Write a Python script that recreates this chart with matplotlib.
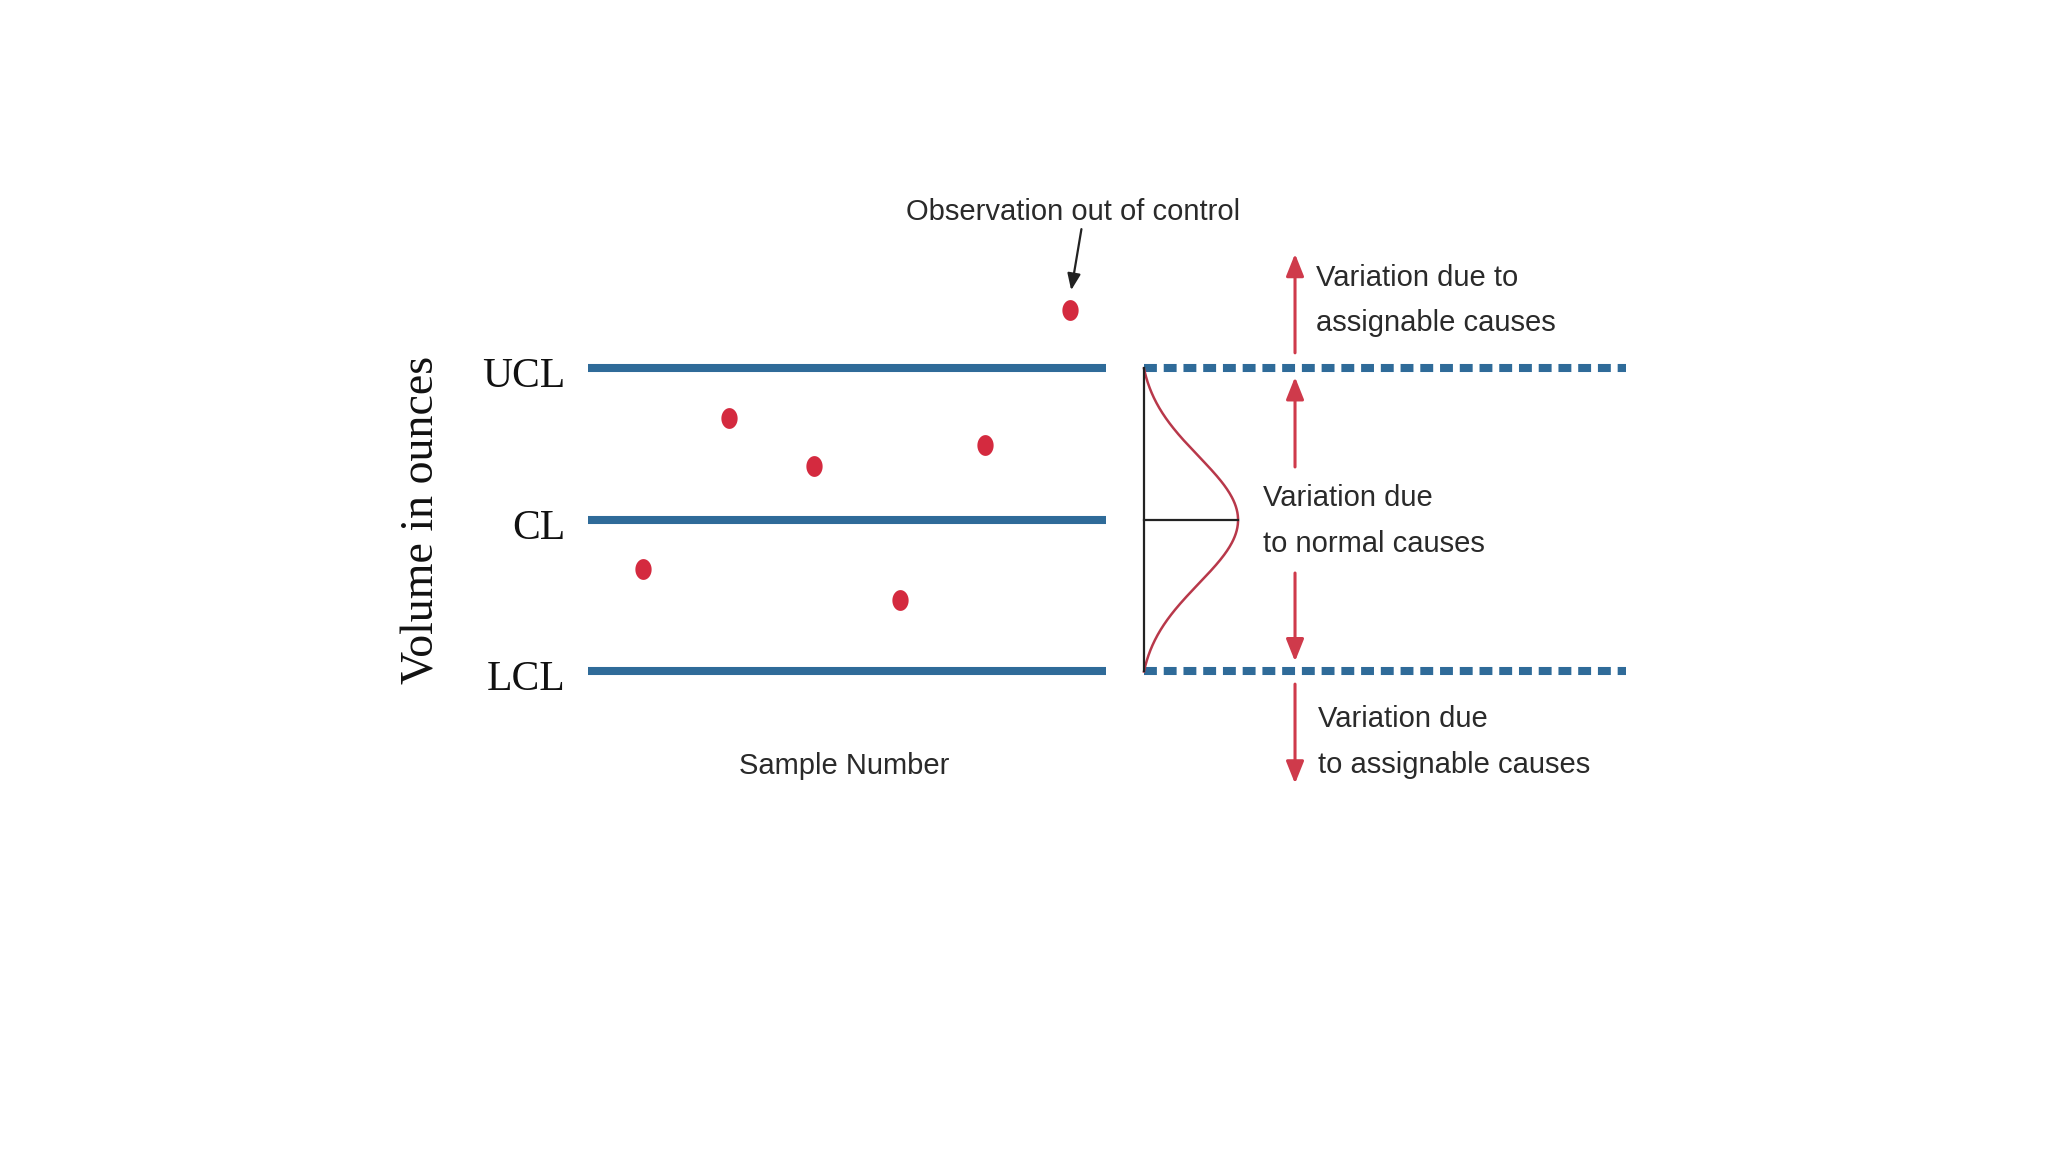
import numpy as np
import matplotlib
matplotlib.use("Agg")
import matplotlib.pyplot as plt
import matplotlib.font_manager as fm

# ---------------- data ----------------
samples = [1, 2, 3, 4, 5, 6]
values = [-0.97, 2.02, 1.07, -1.58, 1.49, 4.16]
limit_names = ["UCL", "CL", "LCL"]
limit_values = [3.0, 0.0, -3.0]
y_label = "Volume in ounces"
x_label = "Sample Number"
out_label = "Observation out of control"
upper_note = "Variation due to\nassignable causes"
normal_note = "Variation due\nto normal causes"
lower_note = "Variation due\nto assignable causes"

# ---------------- styles ----------------
BLUE = "#2f6b99"
RED_DOT = "#d42a3f"
RED_ARROW = "#cf3a4b"
RED_CURVE = "#b8384a"
TEXT = "#2a2a2a"

names = {f.name for f in fm.fontManager.ttflist}
if "Liberation Sans Narrow" in names:
    SANS, SANS_SIZE = ["Liberation Sans Narrow", "DejaVu Sans"], 25
else:
    SANS, SANS_SIZE = ["Liberation Sans", "DejaVu Sans"], 21
SERIF = ["Liberation Serif", "DejaVu Serif"]

fig = plt.figure(figsize=(20.48, 11.52), dpi=100)
ax = fig.add_axes([0, 0, 1, 1])
ax.set_xlim(-6.533, 17.448)
ax.set_ylim(-12.515, 10.297)
ax.axis("off")

# control limit lines (chart part)
x_left, x_right = 0.352, 6.418
for v in limit_values:
    ax.plot([x_left, x_right], [v, v], color=BLUE, lw=5.8, solid_capstyle="butt", zorder=2)

# dashed extension of UCL / LCL
d_left, d_right = 6.862, 12.507
for v in (limit_values[0], limit_values[2]):
    ax.plot([d_left, d_right], [v, v], color=BLUE, lw=5.8, dashes=(1.6, 0.85),
            dash_capstyle="butt", zorder=2)

# limit labels
for name, v in zip(limit_names, limit_values):
    ax.text(0.083, v - 0.17, name, ha="right", va="center", fontsize=30,
            family=SERIF, color="#111111")

ax.text(-1.59, 0.0, y_label, rotation=90, ha="center", va="center",
        fontsize=33, family=SERIF, color="#111111")

# sample points
theta = np.linspace(0, 2 * np.pi, 60)
ell = list(zip(0.78 * np.cos(theta), np.sin(theta)))
ax.plot(samples, values, linestyle="none", marker=ell, markersize=15,
        color=RED_DOT, markeredgewidth=0, zorder=3)

ax.text(3.35, -4.88, x_label, ha="center", va="center", fontsize=SANS_SIZE,
        family=SANS, color=TEXT)

# out-of-control annotation
ax.text(6.03, 6.1, out_label, ha="center", va="center", fontsize=SANS_SIZE,
        family=SANS, color=TEXT)
ax.annotate("", xy=(6.01, 4.55), xytext=(6.13, 5.76),
            arrowprops=dict(arrowstyle="-|>,head_length=0.45,head_width=0.18",
                            mutation_scale=22, lw=1.6, color="#222222",
                            shrinkA=0, shrinkB=0))

# bell curve (normal distribution, drawn sideways)
yy = np.linspace(limit_values[2], limit_values[0], 300)
half = limit_values[0] - limit_values[1]
sig = 0.42 * half
g = np.exp(-0.5 * ((yy - limit_values[1]) / sig) ** 2)
g = (g - g.min()) / (g.max() - g.min())
peak_x = 7.964
ax.plot(d_left + (peak_x - d_left) * g, yy, color=RED_CURVE, lw=1.8, zorder=3)
ax.plot([d_left, d_left], [limit_values[2], limit_values[0]], color="#222222", lw=1.6, zorder=3)
ax.plot([d_left, peak_x], [limit_values[1], limit_values[1]], color="#222222", lw=1.6, zorder=3)

# red arrows
arrow_x = 8.631
arrow_specs = [(3.31, 5.27), (1.05, 2.83), (-1.05, -2.80), (-3.25, -5.22)]
for tail, tip in arrow_specs:
    ax.annotate("", xy=(arrow_x, tip), xytext=(arrow_x, tail),
                arrowprops=dict(arrowstyle="-|>,head_length=0.45,head_width=0.18",
                                mutation_scale=30, lw=2.2, color=RED_ARROW,
                                shrinkA=0, shrinkB=0), zorder=4)

ax.text(8.88, 4.35, upper_note, ha="left", va="center", fontsize=SANS_SIZE,
        family=SANS, color=TEXT, linespacing=1.8)
ax.text(8.26, -0.02, normal_note, ha="left", va="center", fontsize=SANS_SIZE,
        family=SANS, color=TEXT, linespacing=1.8)
ax.text(8.90, -4.4, lower_note, ha="left", va="center", fontsize=SANS_SIZE,
        family=SANS, color=TEXT, linespacing=1.8)

fig.savefig("out.png", dpi=100, facecolor="white")
